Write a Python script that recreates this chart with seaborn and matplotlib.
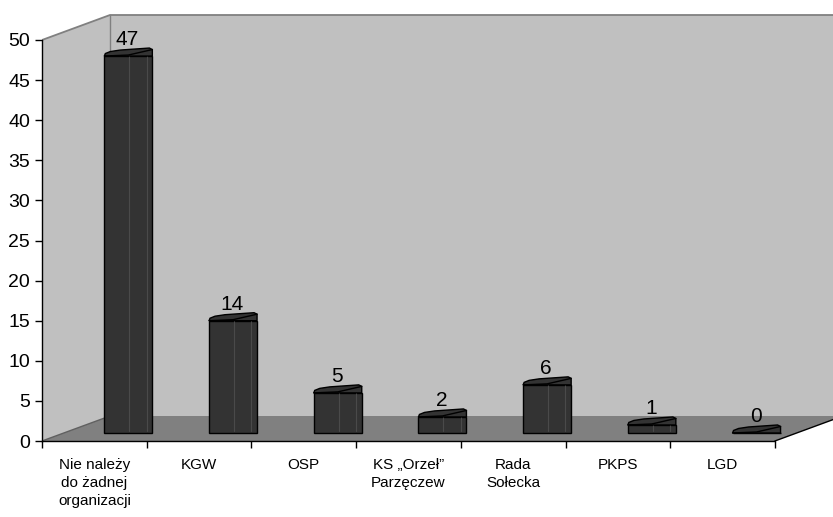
import numpy as np
import pandas as pd
import matplotlib
matplotlib.use("Agg")
import matplotlib.pyplot as plt
import seaborn as sns
from matplotlib.patches import Polygon

# ---- data ----
categories = ["Nie należy\ndo żadnej\norganizacji", "KGW", "OSP",
              "KS „Orzeł”\nParzęczew", "Rada\nSołecka", "PKPS", "LGD"]
values = [47, 14, 5, 2, 6, 1, 0]
y_ticks = list(range(0, 51, 5))

sns.set_theme(style="white")
plt.rcParams['font.family'] = ['Liberation Sans', 'DejaVu Sans']

W, H = 833, 517
fig = plt.figure(figsize=(W / 100, H / 100), dpi=100)

PX_X = 104.7   # pixels per category
PX_Y = 8.02    # pixels per unit
x0_px, y0_px, top_px = 42, 441, 6
ax = fig.add_axes([x0_px / W, (H - y0_px) / H, (W - x0_px) / W, (y0_px - top_px) / H])
XMAX = -0.5 + (W - x0_px) / PX_X
YMAX = (y0_px - top_px) / PX_Y

n = len(categories)
DX = 68 / PX_X
DY = 25 / PX_Y
YTOP = 50

wall_c = "#c0c0c0"
floor_c = "#808080"
edge_c = "#808080"

# walls and floor
ax.add_patch(Polygon([(-0.5, 0), (-0.5 + DX, DY), (-0.5 + DX, YTOP + DY), (-0.5, YTOP)],
                     closed=True, fc=wall_c, ec="none", zorder=1))
ax.add_patch(Polygon([(-0.5 + DX, DY), (XMAX + 1, DY), (XMAX + 1, YTOP + DY), (-0.5 + DX, YTOP + DY)],
                     closed=True, fc=wall_c, ec="none", zorder=1))
ax.add_patch(Polygon([(-0.5, 0), (n - 0.5, 0), (n - 0.5 + DX, DY), (-0.5 + DX, DY)],
                     closed=True, fc=floor_c, ec="none", zorder=1.2))
ax.plot([-0.5, -0.5 + DX, XMAX + 1], [YTOP, YTOP + DY, YTOP + DY], color=edge_c, lw=1.3, zorder=1.5)
ax.plot([-0.5 + DX, -0.5 + DX], [DY, YTOP + DY], color=edge_c, lw=1.0, zorder=1.5)
ax.plot([-0.5, -0.5 + DX], [0, DY], color="#606060", lw=1.0, zorder=1.5)
ax.plot([n - 0.5, n - 0.5 + DX], [0, DY], color="black", lw=1.0, zorder=1.5)

# bars
BAR_W = 48 / PX_X
BAR_SHIFT = 34 / PX_X
BASE = 1.0
df = pd.DataFrame({"pos": np.arange(n) + BAR_SHIFT, "value": values})
sns.barplot(data=df, x="pos", y="value", native_scale=True, width=BAR_W,
            color="#333333", saturation=1, edgecolor="black", linewidth=1.0,
            errorbar=None, ax=ax, zorder=3)
bars = [p for p in ax.patches if isinstance(p, matplotlib.patches.Rectangle)]
for p in bars:
    p.set_y(BASE)
    p.set_zorder(3)

for i, v in enumerate(values):
    cx = i + BAR_SHIFT
    left = cx - BAR_W / 2
    top = BASE + v
    w = BAR_W
    # highlight lines on bar body
    if v > 0:
        for frac in (0.52, 0.88):
            ax.plot([left + frac * w] * 2, [BASE + 0.3, top + 0.2 + frac * 0.5],
                    color="#4a4a4a", lw=0.8, zorder=3.5)
    cap_px = [(0, 0), (1, 2.5), (6, 4.5), (16, 6), (45, 8), (48, 6.5), (48, 0)]
    pts = [(left + dx / PX_X, top + dy / PX_Y) for dx, dy in cap_px]
    ax.add_patch(Polygon(pts, closed=True, fc="#333333", ec="black", lw=1.0, zorder=4))
    front = [(0, 0), (24, 1), (48, 6.5)]
    ax.plot([left + dx / PX_X for dx, dy in front], [top + dy / PX_Y for dx, dy in front],
            color="black", lw=1.0, zorder=4.5)
    if v > 0:
        ax.add_patch(Polygon([(left + w, top), (left + w, top + 6.5 / PX_Y),
                              (left + 24 / PX_X, top + 1 / PX_Y), (left, top)],
                             closed=True, fc="#333333", ec="none", zorder=3.8))
    ax.text(cx - 1 / PX_X, top + 11 / PX_Y, f"{v}", ha="center", va="baseline",
            fontsize=15, color="black", zorder=5)

# axes
ax.set_xlim(-0.5, XMAX)
ax.set_ylim(0, YMAX)
ax.set_xlabel("")
ax.set_ylabel("")
ax.grid(False)
ax.set_facecolor("none")
for s in ("top", "right"):
    ax.spines[s].set_visible(False)
ax.spines["left"].set_bounds(0, YTOP)
ax.spines["bottom"].set_bounds(-0.5, n - 0.5)
for s in ("left", "bottom"):
    ax.spines[s].set_color("black")
    ax.spines[s].set_linewidth(1.0)
    ax.spines[s].set_zorder(2)

ax.set_yticks(y_ticks)
ax.set_yticklabels([str(t) for t in y_ticks])
ax.tick_params(axis="y", which="major", left=True, direction="out", length=5, width=1,
               color="black", labelsize=14, pad=3.5, labelcolor="black")

ax.set_xticks(np.arange(-0.5, n, 1.0))
ax.set_xticklabels([])
ax.set_xticks(np.arange(n), minor=True)
ax.set_xticklabels(categories, minor=True, fontsize=11, linespacing=1.4, color="black")
ax.tick_params(axis="x", which="major", bottom=True, direction="out", length=5, width=1, color="black")
ax.tick_params(axis="x", which="minor", bottom=True, length=0, pad=12)

fig.savefig("out.png", dpi=100, facecolor="white")
